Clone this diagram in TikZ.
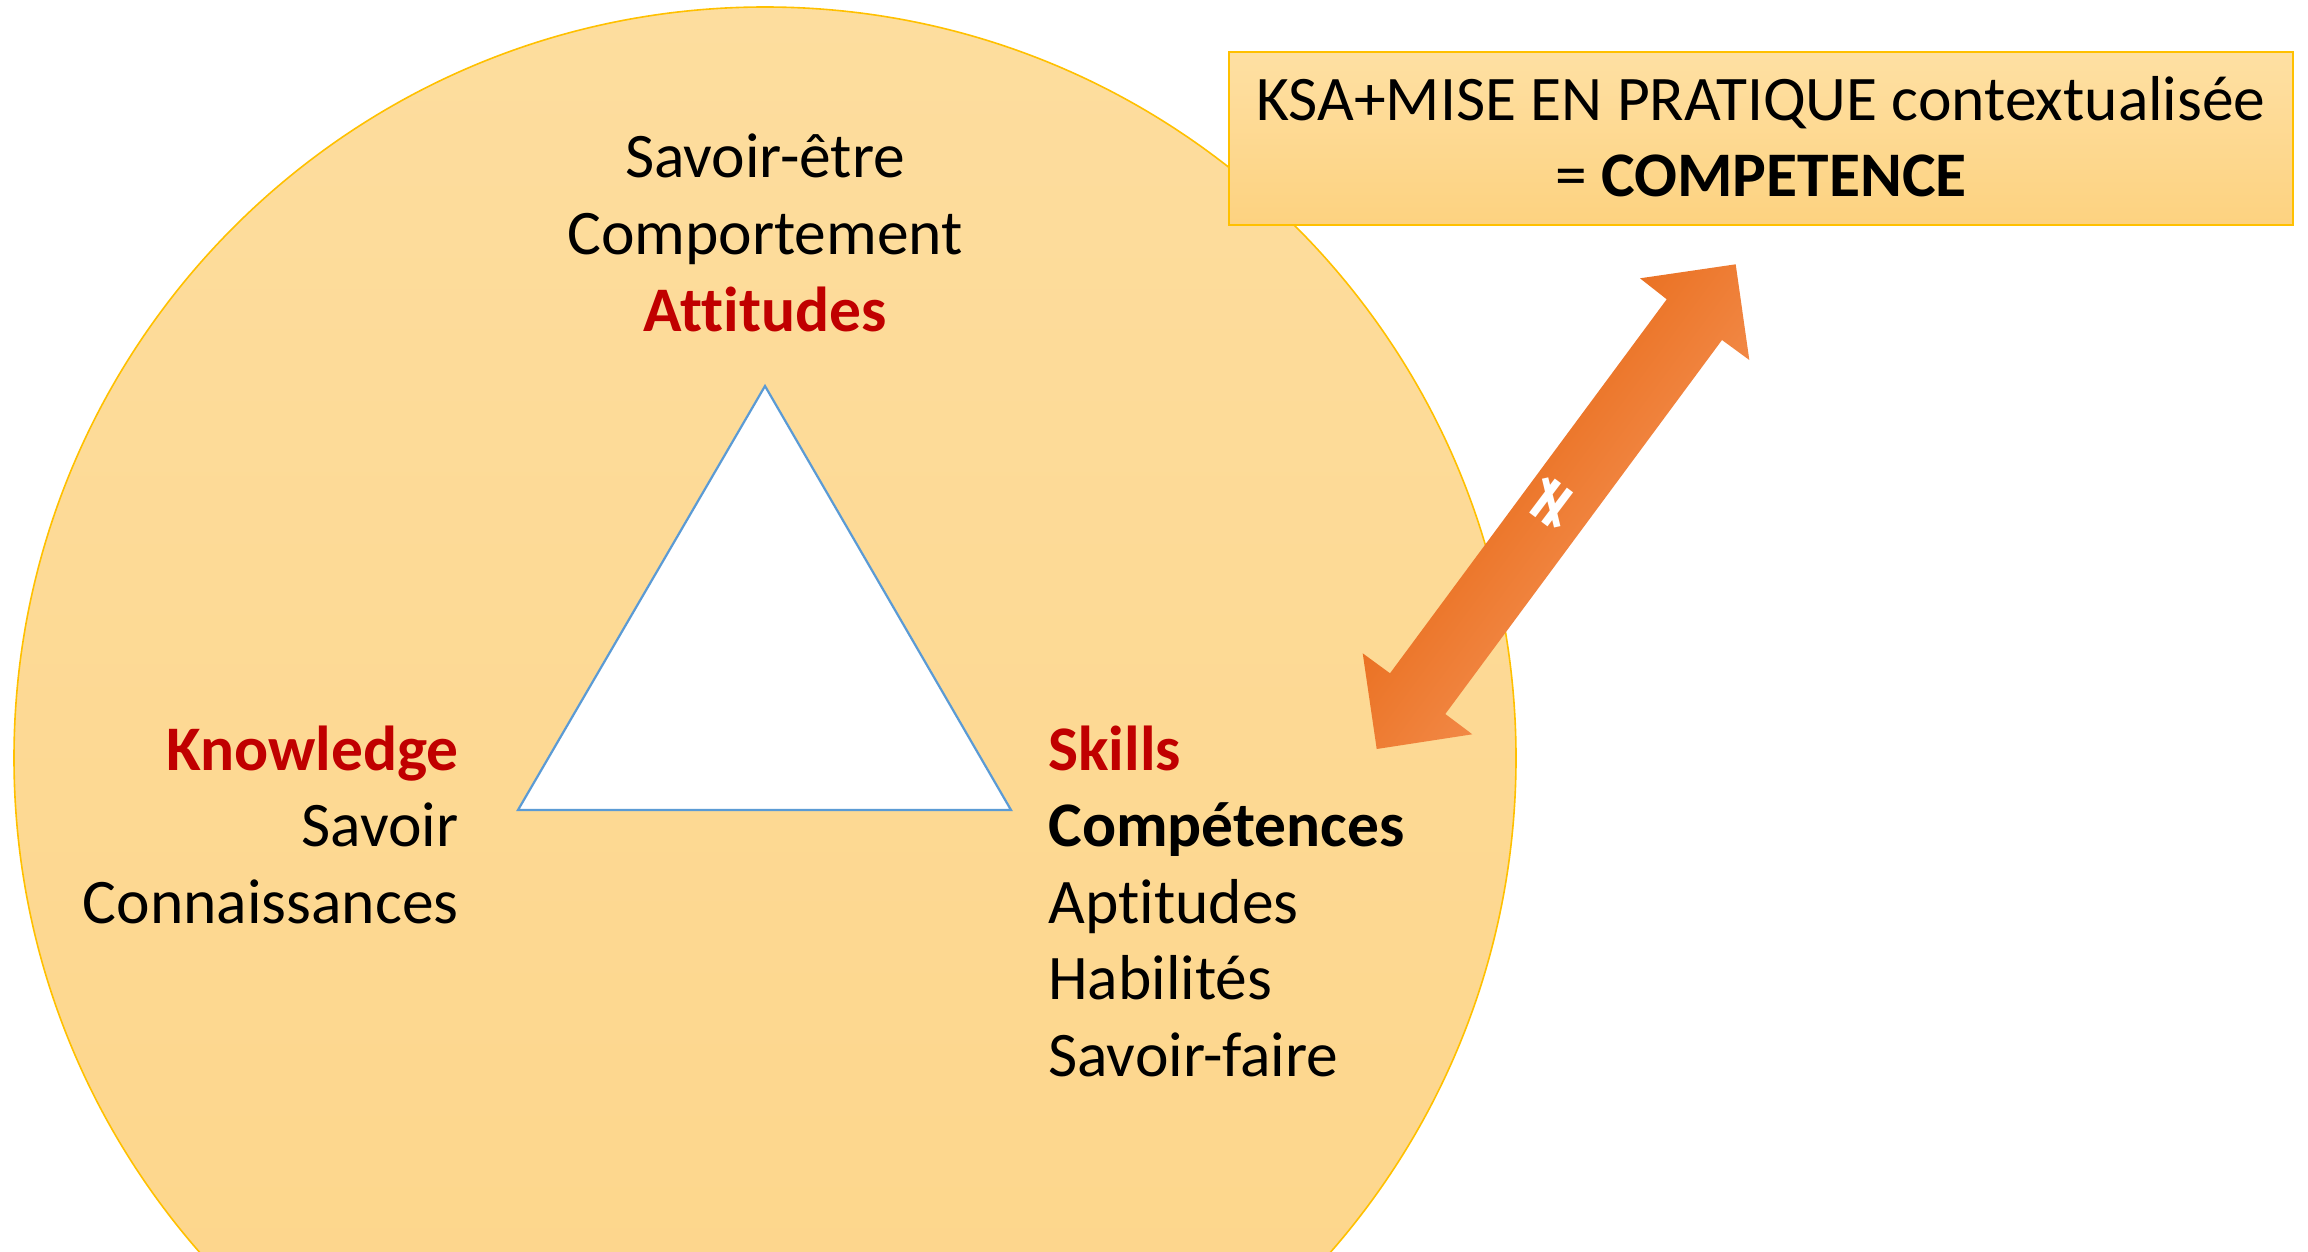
\documentclass[tikz,border=0pt]{standalone}
\usepackage{fontspec}
\setmainfont[Ligatures=NoCommon]{Carlito}
\newfontfamily\symfont{DejaVu Sans}
\definecolor{circTop}{RGB}{253,221,158}
\definecolor{circBot}{RGB}{253,213,137}
\definecolor{circEdge}{RGB}{255,192,0}
\definecolor{boxTop}{RGB}{254,224,163}
\definecolor{boxBot}{RGB}{253,210,128}
\definecolor{kred}{RGB}{192,0,0}
\definecolor{triEdge}{RGB}{91,155,213}
\definecolor{arrA}{RGB}{226,90,0}
\definecolor{arrB}{RGB}{250,160,105}
\begin{document}
\begin{tikzpicture}[x=0.5pt,y=-0.5pt,
  txt/.style={font=\fontsize{31.75}{38.5}\selectfont, inner sep=0pt, anchor=base},
  txtr/.style={txt, anchor=base east},
  txtl/.style={txt, anchor=base west},
  redb/.style={text=kred, font=\fontsize{31.75}{38.5}\selectfont\bfseries}]
\useasboundingbox (0,0) rectangle (2308,1252);
\begin{scope}
\clip (0,0) rectangle (2308,1252);
\shade[top color=circTop, bottom color=circBot] (765,758) circle (751);
\draw[circEdge, line width=0.8pt] (765,758) circle (751);
\end{scope}
% triangle
\draw[triEdge, fill=white, line width=1.1pt] (765,386) -- (1011,810) -- (518,810) -- cycle;
% top texts
\node[txt] (se) at (765,177) {Savoir-être};
\node[txt] (co) at (765,254) {Comportement};
\node[txt, redb] (at) at (765,331) {Attitudes};
% left texts
\node[txtr, redb] (kn) at (459,770) {Knowledge};
\node[txtr] (sa) at (459,846) {Savoir};
\node[txtr] (cn) at (459,923) {Connaissances};
% right texts
\node[txtl, redb] (sk) at (1048,770) {Skills};
\node[txtl, font=\fontsize{31.75}{38.5}\selectfont\bfseries] (cp) at (1048,846) {Compétences};
\node[txtl] (ap) at (1048,923) {Aptitudes};
\node[txtl] (hb) at (1048,999) {Habilités};
\node[txtl] (sf) at (1048,1076) {Savoir-faire};
% box
\node[draw=circEdge, line width=0.8pt, top color=boxTop, bottom color=boxBot, minimum width=532pt, minimum height=86.5pt, inner sep=0pt] (box) at (1761,138.5) {};
\node[txt] (b1) at (1761,121) {KSA+MISE EN PRATIQUE contextualisée};
\node[txt] (b2) at (1761,197) {= \textbf{COMPETENCE}};
% double arrow
\shade[top color=arrA, bottom color=arrB, shading angle=53.5]
  (1735.7,264.3) -- (1749.3,360) -- (1722,340) -- (1445.3,714) -- (1472.3,734.3)
  -- (1376.7,749) -- (1362.7,653.3) -- (1390,673.3) -- (1666.7,299.3) -- (1640,278.3) -- cycle;
\node[text=white, rotate=53, inner sep=0pt, font=\symfont\fontsize{34}{34}\selectfont\bfseries] (ne) at (1552,503) {≠};
\end{tikzpicture}
\end{document}
